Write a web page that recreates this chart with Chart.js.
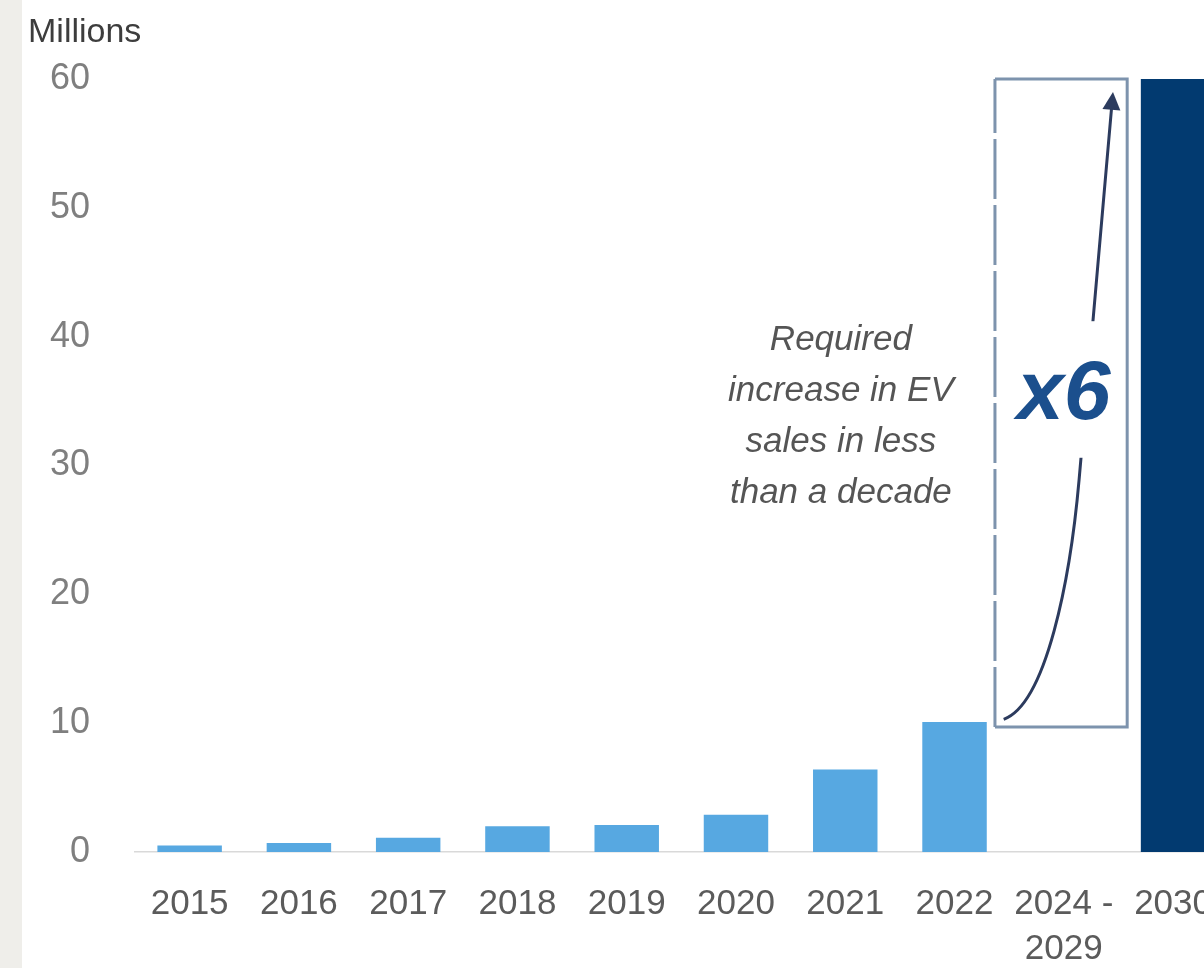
<!DOCTYPE html>
<html>
<head>
<meta charset="utf-8">
<title>EV sales</title>
<script src="https://cdn.jsdelivr.net/npm/chart.js@4.4.0/dist/chart.umd.min.js"></script>
<style>
  html, body { margin: 0; padding: 0; overflow: hidden; }
  body {
    width: 1204px;
    height: 968px;
    background: linear-gradient(to right, #efeeea 0, #efeeea 22px, #ffffff 22px);
  }
  #evChart { position: absolute; left: 0; top: 0; }
</style>
</head>
<body>
<canvas id="evChart" width="1242" height="968"></canvas>
<script>
// years on the x axis (the gap period has a two-line label)
const years = ['2015', '2016', '2017', '2018', '2019', '2020', '2021', '2022', ['2024 -', '2029'], '2030'];
// EV sales, millions
const evSales = [0.5, 0.7, 1.1, 2.0, 2.1, 2.9, 6.4, 10.1, null, 60];
const barColors = ['#57a8e1', '#57a8e1', '#57a8e1', '#57a8e1', '#57a8e1', '#57a8e1', '#57a8e1', '#57a8e1', '#57a8e1', '#023a70'];
const yMin = 0;
const yMax = 60;
const yStep = 10;
const unitLabel = 'Millions';
const noteLines = ['Required', 'increase in EV', 'sales in less', 'than a decade'];
const growthLabel = 'x6';

// box, arrow and caption around the 2024-2029 slot
const growthNote = {
    id: 'growthNote',
    afterDraw(chart) {
        const { ctx, chartArea } = chart;
        const x = chart.scales.x;
        const y = chart.scales.y;

        ctx.save();

        // unit label above the value axis
        ctx.font = '34px "Liberation Sans", Arial, sans-serif';
        ctx.fillStyle = '#3d3d3d';
        ctx.textAlign = 'left';
        ctx.textBaseline = 'alphabetic';
        ctx.fillText(unitLabel, 28, chartArea.top - 37);

        // outline box, left side dashed
        const left = x.getPixelForValue(7.37);
        const right = x.getPixelForValue(8.58);
        const top = y.getPixelForValue(60);
        const bottom = y.getPixelForValue(9.7);
        ctx.strokeStyle = '#7d93ad';
        ctx.lineWidth = 3;
        ctx.beginPath();
        ctx.moveTo(left, top);
        ctx.lineTo(right, top);
        ctx.lineTo(right, bottom);
        ctx.lineTo(left, bottom);
        ctx.stroke();
        ctx.setLineDash([60, 6]);
        ctx.beginPath();
        ctx.moveTo(left, bottom);
        ctx.lineTo(left, top);
        ctx.stroke();
        ctx.setLineDash([]);

        // growth arrow: curve off the 2022 bar, then straight up
        const sx = x.getPixelForValue(7.45), sy = y.getPixelForValue(10.3);
        const ex = x.getPixelForValue(8.45), ey = y.getPixelForValue(59.0);
        ctx.strokeStyle = '#2c3b5e';
        ctx.lineWidth = 3;
        ctx.beginPath();
        ctx.moveTo(sx, sy);
        ctx.bezierCurveTo(
            x.getPixelForValue(7.84), y.getPixelForValue(11.5),
            x.getPixelForValue(8.06), y.getPixelForValue(21.2),
            x.getPixelForValue(8.14), y.getPixelForValue(28.9)
        );
        const ang = Math.atan2(ey - y.getPixelForValue(28.9), ex - x.getPixelForValue(8.14));
        const head = 18;
        ctx.lineTo(ex - Math.cos(ang) * head * 0.8, ey - Math.sin(ang) * head * 0.8);
        ctx.stroke();
        ctx.fillStyle = '#2c3b5e';
        ctx.beginPath();
        ctx.moveTo(ex, ey);
        ctx.lineTo(ex - Math.cos(ang) * head - Math.sin(ang) * 9, ey - Math.sin(ang) * head + Math.cos(ang) * 9);
        ctx.lineTo(ex - Math.cos(ang) * head + Math.sin(ang) * 9, ey - Math.sin(ang) * head - Math.cos(ang) * 9);
        ctx.closePath();
        ctx.fill();

        // clear a gap in the arrow for the multiplier
        ctx.fillStyle = '#ffffff';
        const gTop = y.getPixelForValue(41.2);
        const gBot = y.getPixelForValue(30.6);
        ctx.fillRect(left + 4, gTop, right - left - 8, gBot - gTop);

        ctx.font = 'italic bold 84px "Liberation Sans", Arial, sans-serif';
        ctx.fillStyle = '#1b4f8d';
        ctx.textAlign = 'center';
        ctx.textBaseline = 'middle';
        ctx.fillText(growthLabel, x.getPixelForValue(8.0), y.getPixelForValue(35.4));

        // caption to the left of the box
        ctx.font = 'italic 35px "Liberation Sans", Arial, sans-serif';
        ctx.fillStyle = '#555555';
        ctx.textBaseline = 'alphabetic';
        const cx = x.getPixelForValue(5.96);
        const firstLine = y.getPixelForValue(39.0);
        noteLines.forEach((line, i) => {
            ctx.fillText(line, cx, firstLine + i * 51);
        });

        ctx.restore();
    }
};

const ctx = document.getElementById('evChart').getContext('2d');
const evChart = new Chart(ctx, {
    type: 'bar',
    data: {
        labels: years,
        datasets: [{
            data: evSales,
            backgroundColor: barColors,
            borderWidth: 0,
            barPercentage: 0.59,
            categoryPercentage: 1.0
        }]
    },
    options: {
        responsive: false,
        animation: false,
        devicePixelRatio: 1,
        layout: { padding: { top: 79, left: 0, right: 0, bottom: 0 } },
        plugins: {
            legend: { display: false },
            tooltip: { enabled: false },
            title: { display: false }
        },
        scales: {
            x: {
                grid: { drawOnChartArea: false, drawTicks: false },
                border: { display: true, color: '#d9d9d9', width: 1.5 },
                ticks: {
                    color: '#5b5b5b',
                    font: { family: '"Liberation Sans", Arial, sans-serif', size: 35, lineHeight: 1.28 },
                    padding: 30,
                    autoSkip: false,
                    maxRotation: 0
                },
                afterFit: s => { s.height = 116; }
            },
            y: {
                min: yMin,
                max: yMax,
                grid: { display: false },
                border: { display: false },
                ticks: {
                    stepSize: yStep,
                    color: '#7f7f7f',
                    font: { family: '"Liberation Sans", Arial, sans-serif', size: 36 },
                    padding: 37
                },
                afterFit: s => { s.width = 135; }
            }
        }
    },
    plugins: [growthNote]
});
</script>
</body>
</html>
